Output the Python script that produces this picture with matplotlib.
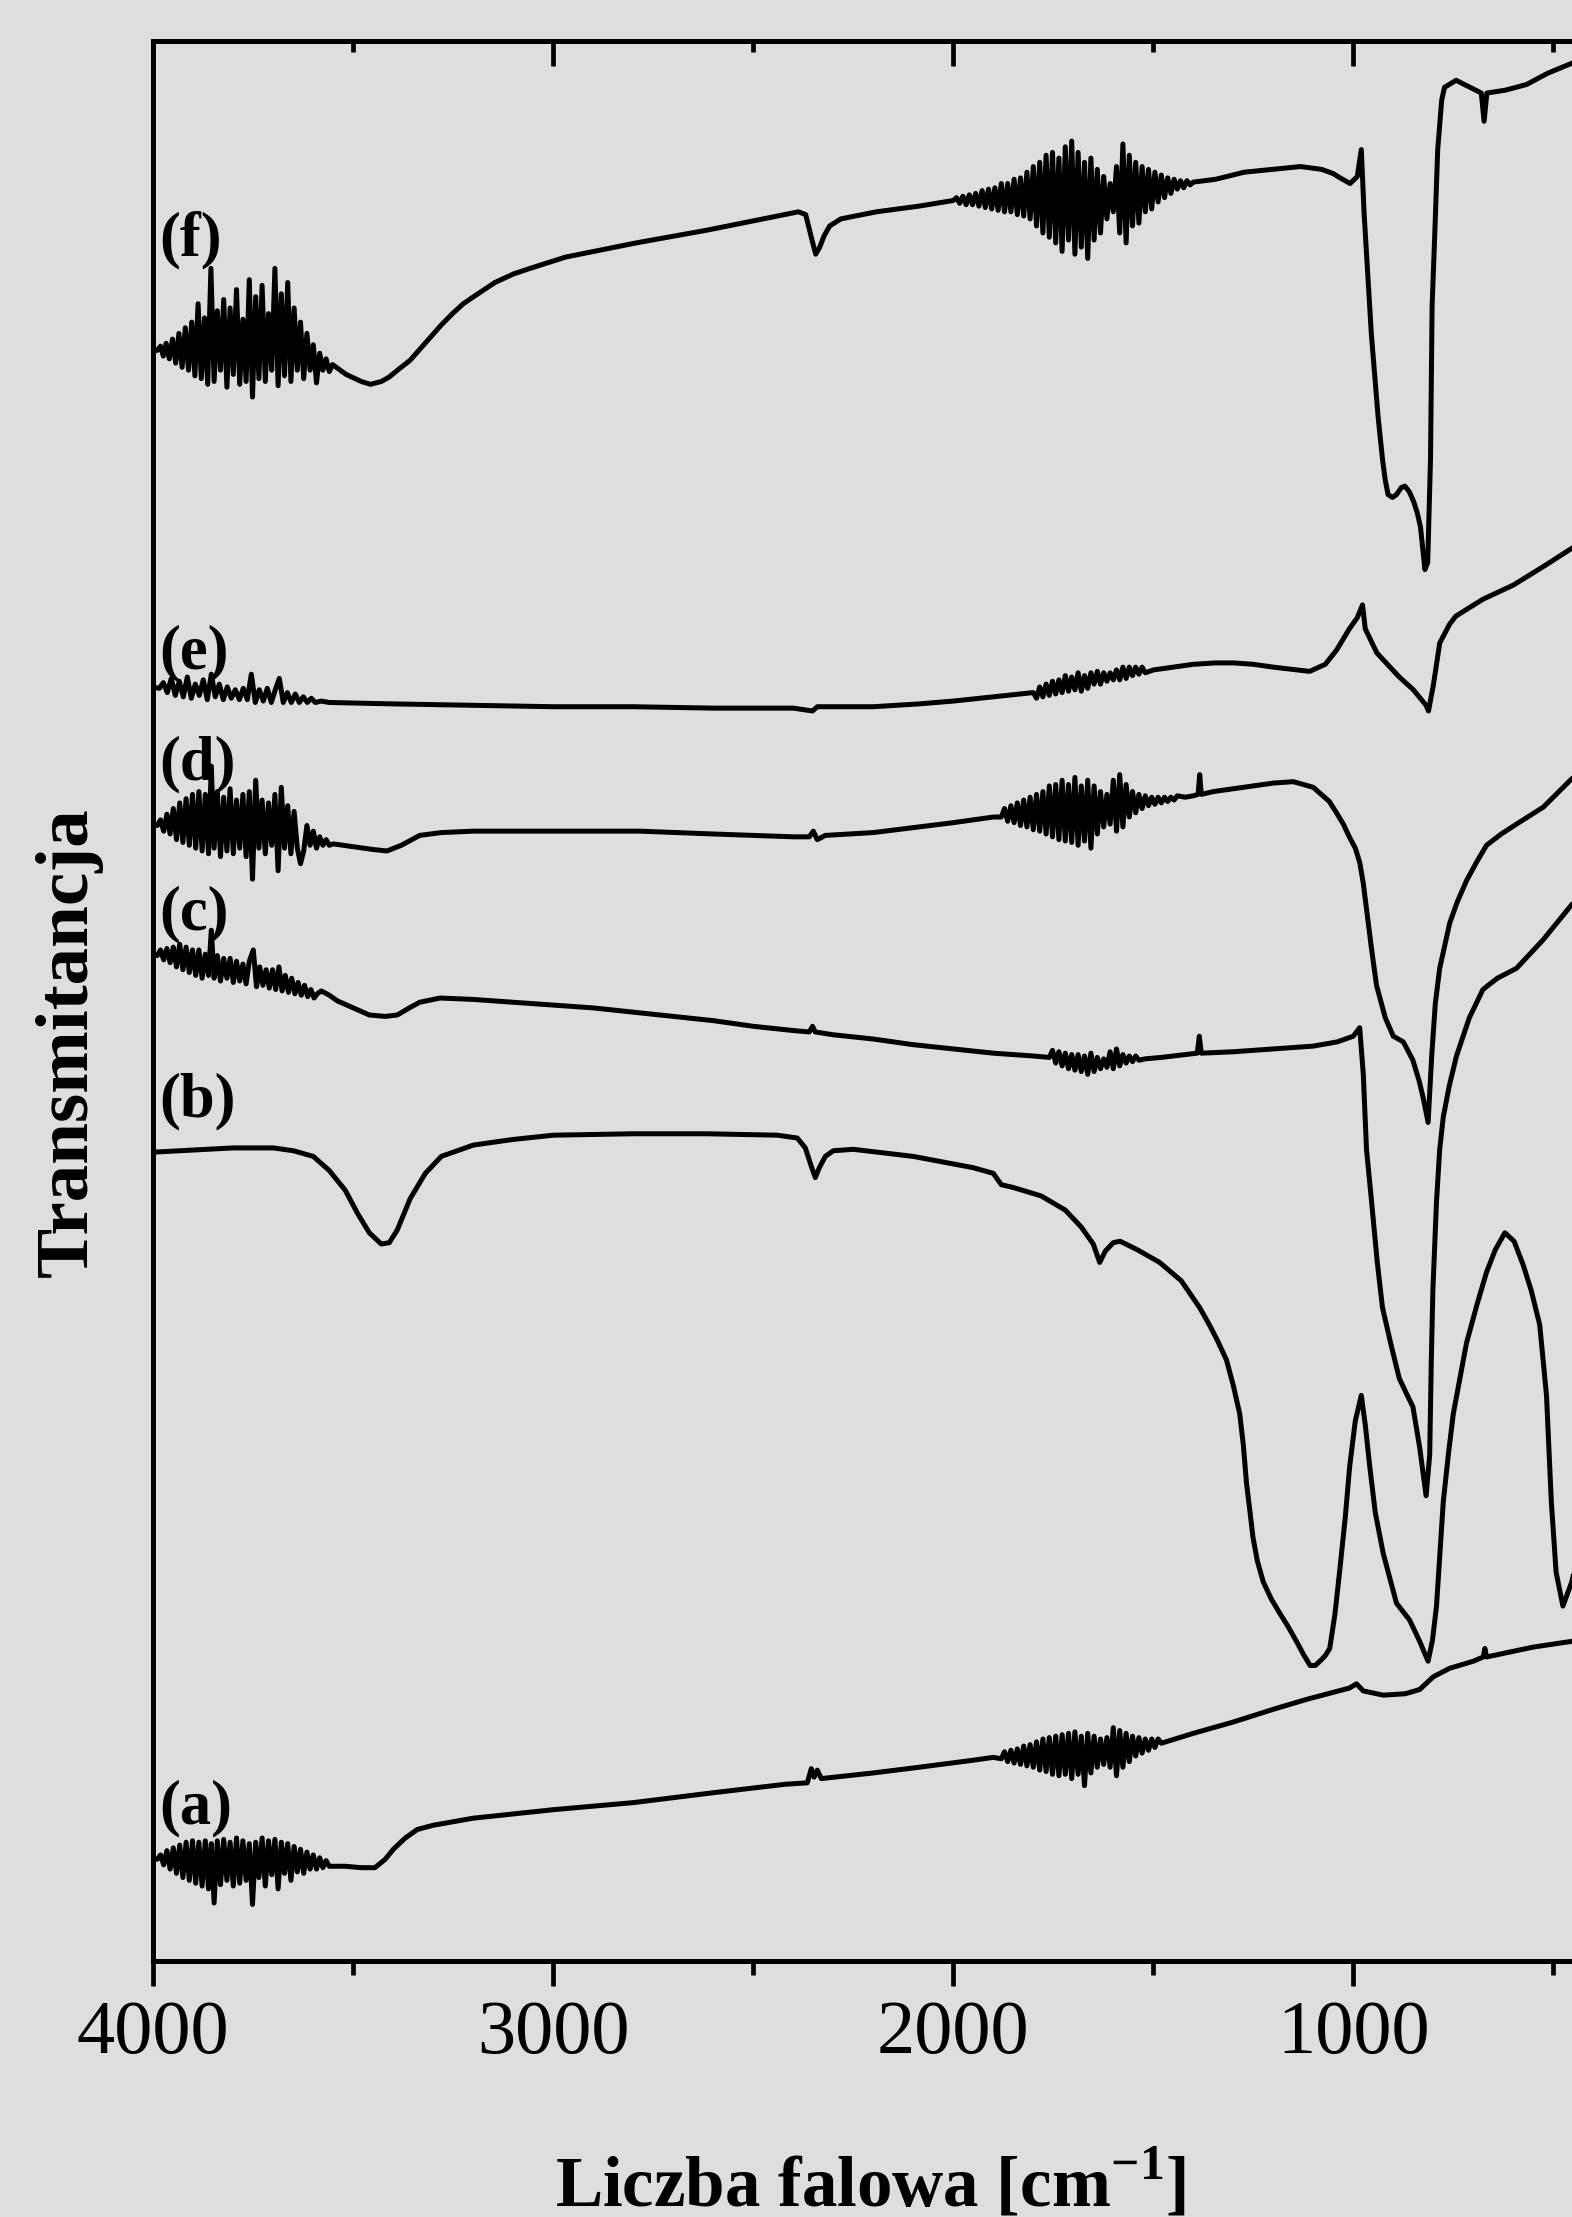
import matplotlib
matplotlib.use("Agg")
import matplotlib.pyplot as plt

plt.rcParams['font.family'] = ['Liberation Serif', 'DejaVu Serif']
plt.rcParams['mathtext.fontset'] = 'custom'
plt.rcParams['mathtext.rm'] = 'Liberation Serif'
plt.rcParams['mathtext.bf'] = 'Liberation Serif:bold'

BG = '#dedede'

# (wavenumber cm-1, transmittance in arbitrary units, curves offset)
spec_f = [
    (4000, 1152), (3990, 1152), (3982, 1155), (3975, 1148), (3968, 1157), (3960, 1146), (3952, 1160),
    (3944, 1143), (3936, 1164), (3928, 1140), (3920, 1168), (3912, 1138), (3904, 1172), (3896, 1134),
    (3888, 1185), (3880, 1132), (3872, 1175), (3864, 1128), (3856, 1210), (3848, 1130), (3840, 1180),
    (3832, 1138), (3824, 1188), (3816, 1126), (3808, 1182), (3800, 1135), (3792, 1195), (3784, 1128),
    (3776, 1174), (3768, 1130), (3760, 1202), (3752, 1119), (3744, 1190), (3736, 1132), (3728, 1198),
    (3720, 1130), (3712, 1178), (3704, 1138), (3696, 1210), (3688, 1127), (3680, 1192), (3672, 1134),
    (3664, 1200), (3656, 1130), (3648, 1182), (3640, 1138), (3632, 1172), (3624, 1132), (3616, 1164),
    (3608, 1138), (3600, 1156), (3592, 1129), (3584, 1150), (3576, 1138), (3568, 1146), (3560, 1137),
    (3552, 1142), (3518, 1135), (3480, 1130), (3457, 1128), (3430, 1130), (3411, 1133), (3385, 1139),
    (3358, 1145), (3330, 1154), (3305, 1162), (3280, 1170), (3252, 1178), (3225, 1185), (3199, 1190),
    (3146, 1200), (3100, 1206), (3058, 1210), (2969, 1218), (2793, 1228), (2616, 1237), (2475, 1245),
    (2387, 1250), (2369, 1248), (2355, 1232),
    (2344, 1220), (2334, 1225), (2323, 1233), (2309, 1240), (2281, 1245), (2192, 1250), (2086, 1254),
    (2000, 1258), (1992, 1260), (1984, 1256), (1976, 1261), (1968, 1255), (1960, 1262), (1952, 1255),
    (1944, 1263), (1936, 1254), (1928, 1265), (1920, 1253), (1912, 1266), (1904, 1252), (1896, 1267),
    (1888, 1251), (1880, 1270), (1872, 1250), (1864, 1270), (1856, 1250), (1848, 1273), (1840, 1248),
    (1832, 1274), (1824, 1247), (1816, 1278), (1808, 1245), (1800, 1282), (1792, 1240), (1784, 1285),
    (1776, 1235), (1768, 1290), (1760, 1232), (1752, 1292), (1744, 1228), (1736, 1288), (1728, 1222),
    (1720, 1296), (1712, 1230), (1704, 1300), (1696, 1220), (1688, 1292), (1680, 1225), (1672, 1285),
    (1664, 1217), (1656, 1288), (1648, 1230), (1640, 1280), (1632, 1235), (1624, 1275), (1616, 1245),
    (1608, 1270), (1600, 1250), (1592, 1282), (1584, 1235), (1576, 1298), (1568, 1228), (1560, 1290),
    (1552, 1240), (1544, 1285), (1536, 1242), (1528, 1282), (1520, 1250), (1512, 1280), (1504, 1252),
    (1496, 1278), (1488, 1257), (1480, 1276), (1472, 1260), (1464, 1274), (1456, 1263), (1448, 1273),
    (1440, 1266), (1432, 1272), (1424, 1267), (1416, 1272), (1408, 1269), (1400, 1271), (1344, 1273),
    (1273, 1278), (1203, 1280), (1132, 1282), (1079, 1280), (1050, 1277), (1033, 1274), (1008, 1270),
    (990, 1275), (980, 1294), (973, 1249), (962, 1197), (955, 1164), (945, 1129), (938, 1105),
    (927, 1075), (920, 1060), (913, 1050), (902, 1048), (892, 1050), (880, 1055), (871, 1056),
    (860, 1052), (849, 1045), (840, 1037), (832, 1027), (821, 997), (814, 1002),
    (807, 1075), (803, 1183), (796, 1237), (789, 1294), (779, 1329), (772, 1338), (743, 1343),
    (708, 1338), (680, 1334), (673, 1314), (666, 1334), (620, 1336), (567, 1340), (514, 1348),
    (454, 1355), (420, 1360),
]

spec_e = [
    (4000, 914), (3985, 913), (3975, 917), (3965, 910), (3955, 920), (3945, 908), (3935, 918),
    (3925, 907), (3915, 921), (3905, 906), (3895, 916), (3885, 908), (3875, 919), (3865, 905),
    (3855, 923), (3845, 907), (3835, 916), (3825, 905), (3815, 914), (3805, 906), (3795, 912),
    (3785, 905), (3775, 913), (3765, 905), (3755, 923), (3745, 903), (3735, 912), (3725, 904),
    (3715, 913), (3705, 903), (3695, 912), (3685, 920), (3675, 903), (3665, 910), (3655, 903),
    (3645, 909), (3635, 903), (3625, 907), (3615, 903), (3605, 906), (3595, 903), (3580, 904),
    (3560, 903), (3400, 902), (3200, 901), (3000, 900), (2800, 900), (2600, 899), (2400, 899),
    (2352, 897), (2340, 900), (2200, 900), (2086, 902), (2000, 904), (1900, 907), (1800, 910),
    (1792, 906), (1784, 914), (1776, 907), (1768, 916), (1760, 908), (1752, 918), (1744, 909),
    (1736, 919), (1728, 910), (1720, 922), (1712, 911), (1704, 921), (1696, 912), (1688, 924),
    (1680, 911), (1672, 922), (1664, 913), (1656, 924), (1648, 916), (1640, 925), (1632, 916),
    (1624, 924), (1616, 918), (1608, 924), (1600, 919), (1592, 926), (1584, 919), (1576, 928),
    (1568, 920), (1560, 928), (1552, 922), (1544, 928), (1536, 923), (1528, 928), (1520, 924),
    (1500, 926), (1450, 928), (1400, 930), (1344, 931), (1300, 931), (1250, 930), (1200, 928),
    (1140, 926), (1109, 925), (1070, 930), (1042, 940), (1010, 955), (990, 963), (977, 972),
    (970, 955), (941, 938), (885, 921), (850, 912), (818, 901), (812, 897), (800, 915),
    (784, 945), (760, 958), (744, 964), (676, 976), (600, 986), (520, 1000), (454, 1012), (420, 1018),
]

spec_d = [
    (4000, 817), (3990, 816), (3982, 820), (3974, 812), (3966, 824), (3958, 810), (3950, 828),
    (3942, 806), (3934, 832), (3926, 804), (3918, 835), (3910, 802), (3902, 838), (3894, 800),
    (3886, 840), (3878, 798), (3870, 838), (3862, 796), (3855, 858), (3848, 800), (3840, 840),
    (3832, 794), (3824, 836), (3816, 798), (3808, 842), (3800, 796), (3792, 834), (3784, 800),
    (3776, 838), (3768, 794), (3760, 840), (3752, 778), (3744, 848), (3736, 800), (3728, 834),
    (3720, 796), (3712, 832), (3704, 802), (3696, 838), (3688, 784), (3680, 843), (3672, 800),
    (3664, 830), (3656, 796), (3648, 826), (3640, 800), (3632, 789), (3624, 798), (3616, 816),
    (3608, 802), (3600, 812), (3592, 800), (3584, 808), (3576, 802), (3568, 806), (3560, 802),
    (3550, 803), (3500, 801), (3450, 799), (3416, 798), (3380, 802), (3334, 809), (3280, 811),
    (3201, 812), (3000, 812), (2783, 812), (2600, 810), (2400, 808), (2360, 808), (2350, 812),
    (2340, 806), (2320, 809), (2200, 811), (2086, 815), (2000, 818), (1900, 822), (1880, 822),
    (1872, 828), (1864, 819), (1856, 830), (1848, 818), (1840, 832), (1832, 816), (1824, 834),
    (1816, 815), (1808, 836), (1800, 813), (1792, 838), (1784, 812), (1776, 840), (1768, 810),
    (1760, 844), (1752, 808), (1744, 845), (1736, 806), (1728, 848), (1720, 805), (1712, 845),
    (1704, 804), (1696, 850), (1688, 802), (1680, 844), (1672, 805), (1664, 848), (1656, 800),
    (1648, 844), (1640, 810), (1632, 840), (1624, 815), (1616, 838), (1608, 817), (1600, 848),
    (1592, 812), (1584, 852), (1576, 815), (1568, 845), (1560, 822), (1552, 840), (1544, 825),
    (1536, 838), (1528, 828), (1520, 837), (1512, 830), (1504, 836), (1496, 831), (1488, 836),
    (1480, 832), (1472, 836), (1464, 833), (1456, 836), (1448, 834), (1440, 837), (1420, 836),
    (1400, 837), (1388, 838), (1384, 852), (1380, 838), (1350, 840), (1300, 842), (1250, 844),
    (1200, 846), (1150, 847), (1125, 845), (1100, 843), (1080, 838), (1060, 833), (1042, 825),
    (1025, 817), (1010, 808), (995, 800), (984, 790), (975, 775),
    (967, 757), (955, 730), (942, 703), (920, 680), (900, 667), (875, 663), (851, 650), (835, 635),
    (825, 623), (813, 606), (804, 653), (795, 690), (784, 715), (770, 733), (759, 747), (740, 762),
    (717, 777), (690, 791), (667, 802), (630, 810), (592, 817), (525, 829), (454, 849), (420, 855),
]

spec_c = [
    (4000, 725), (3990, 724), (3982, 728), (3974, 721), (3966, 729), (3958, 719), (3950, 730),
    (3942, 716), (3934, 732), (3926, 714), (3918, 730), (3910, 712), (3902, 728), (3894, 710),
    (3886, 728), (3878, 708), (3870, 725), (3862, 710), (3855, 742), (3848, 708), (3840, 724),
    (3832, 706), (3824, 722), (3816, 708), (3808, 722), (3800, 705), (3792, 720), (3784, 706),
    (3776, 718), (3768, 704), (3760, 720), (3750, 728), (3742, 702), (3734, 716), (3726, 703),
    (3718, 714), (3710, 701), (3702, 714), (3694, 700), (3686, 716), (3678, 699), (3670, 710),
    (3662, 698), (3654, 708), (3646, 697), (3638, 705), (3630, 696), (3622, 703), (3614, 695),
    (3606, 700), (3598, 694), (3590, 697), (3580, 699), (3560, 696), (3540, 692), (3500, 687),
    (3460, 682), (3420, 681), (3390, 682), (3360, 687), (3334, 691), (3283, 694), (3200, 693),
    (3100, 691), (3000, 689), (2900, 687), (2800, 684), (2700, 681), (2600, 678), (2500, 674),
    (2400, 671), (2360, 670), (2352, 674), (2345, 670), (2300, 668), (2200, 665), (2100, 661),
    (2000, 658), (1900, 655), (1800, 653), (1760, 652), (1752, 657), (1744, 648), (1736, 656),
    (1728, 646), (1720, 655), (1712, 644), (1704, 654), (1696, 643), (1688, 654), (1680, 642),
    (1672, 653), (1664, 640), (1656, 655), (1648, 642), (1640, 652), (1632, 644), (1624, 651),
    (1616, 645), (1608, 656), (1600, 644), (1592, 658), (1584, 646), (1576, 654), (1568, 648),
    (1560, 653), (1552, 649), (1544, 653), (1536, 650), (1520, 651), (1480, 652), (1420, 654),
    (1390, 655), (1385, 667), (1380, 655), (1300, 656), (1200, 658), (1100, 660), (1040, 663),
    (1000, 667), (984, 673), (975, 640), (967, 587), (955, 552), (940, 507), (927, 475),
    (905, 448), (885, 425), (865, 413), (851, 405), (834, 376), (818, 342), (809, 371), (805, 438),
    (801, 488), (792, 550), (784, 587), (775, 610), (760, 632), (742, 653), (710, 680), (676, 700),
    (640, 708), (592, 715), (526, 735), (454, 760), (420, 768),
]

spec_b = [
    (4000, 585), (3800, 588), (3700, 588), (3650, 586), (3600, 582), (3560, 572), (3520, 558),
    (3490, 542), (3460, 528), (3430, 520), (3410, 521), (3390, 530), (3358, 552), (3320, 570),
    (3280, 582), (3200, 590), (3100, 594), (3000, 597), (2800, 598), (2616, 598), (2440, 597),
    (2390, 595), (2370, 588), (2355, 575), (2345, 567), (2335, 574), (2320, 582), (2300, 586),
    (2250, 587), (2100, 582), (1950, 574), (1900, 570), (1880, 562), (1850, 560), (1780, 554),
    (1720, 544), (1680, 532), (1650, 520), (1634, 507), (1620, 515), (1600, 521), (1583, 522),
    (1540, 516), (1484, 507), (1430, 494), (1384, 475), (1360, 463), (1340, 452), (1317, 438),
    (1300, 420), (1284, 400), (1275, 378), (1267, 351), (1258, 330), (1251, 313), (1240, 296),
    (1225, 281), (1205, 269), (1184, 259), (1162, 249), (1142, 239), (1125, 230), (1108, 222),
    (1095, 222), (1080, 226), (1070, 229), (1059, 234), (1046, 258), (1034, 289), (1020, 327),
    (1009, 363), (995, 395), (980, 413), (970, 392), (959, 363), (945, 330), (925, 301),
    (892, 266), (859, 254), (834, 239), (813, 225), (802, 240), (792, 264), (775, 338),
    (762, 372), (750, 400), (717, 450), (690, 478), (667, 500), (645, 516), (621, 528), (598, 522),
    (575, 505), (555, 487), (534, 463), (517, 413), (505, 338), (493, 288), (476, 264), (454, 281),
    (430, 310),
]

spec_a = [
    (4000, 85), (3990, 85), (3982, 88), (3974, 81), (3966, 91), (3958, 78), (3950, 93),
    (3942, 75), (3934, 95), (3926, 72), (3918, 97), (3910, 70), (3902, 98), (3894, 68),
    (3886, 97), (3878, 66), (3870, 98), (3862, 64), (3855, 96), (3848, 54), (3840, 98),
    (3832, 67), (3824, 99), (3816, 70), (3808, 97), (3800, 66), (3792, 100), (3784, 68),
    (3776, 98), (3768, 70), (3760, 96), (3752, 53), (3744, 97), (3736, 72), (3728, 100),
    (3720, 66), (3712, 98), (3704, 74), (3696, 99), (3688, 64), (3680, 97), (3672, 75),
    (3664, 96), (3656, 70), (3648, 94), (3640, 76), (3632, 92), (3624, 75), (3616, 90),
    (3608, 78), (3600, 88), (3592, 78), (3584, 86), (3576, 79), (3568, 84), (3560, 80),
    (3520, 80), (3480, 79), (3446, 79), (3420, 85), (3400, 92), (3370, 100), (3340, 106),
    (3300, 109), (3200, 114), (3000, 120), (2800, 125), (2600, 132), (2420, 138), (2365, 139),
    (2355, 149), (2348, 143), (2340, 148), (2330, 142), (2200, 146), (2086, 150), (1950, 155),
    (1900, 157), (1880, 156), (1872, 161), (1864, 154), (1856, 162), (1848, 153), (1840, 163),
    (1832, 152), (1824, 165), (1816, 151), (1808, 166), (1800, 150), (1792, 168), (1784, 148),
    (1776, 170), (1768, 147), (1760, 171), (1752, 145), (1744, 172), (1736, 144), (1728, 173),
    (1720, 145), (1712, 174), (1704, 142), (1696, 175), (1688, 145), (1680, 172), (1672, 137),
    (1664, 174), (1656, 146), (1648, 172), (1640, 150), (1632, 170), (1624, 152), (1616, 171),
    (1608, 150), (1600, 178), (1592, 144), (1584, 176), (1576, 150), (1568, 174), (1560, 154),
    (1552, 172), (1544, 158), (1536, 171), (1528, 160), (1520, 170), (1512, 162), (1504, 170),
    (1496, 164), (1488, 170), (1480, 167), (1400, 174), (1300, 182), (1200, 191), (1117, 198),
    (1050, 203), (1010, 206), (992, 209), (975, 204), (925, 201), (870, 202), (834, 205),
    (800, 214), (759, 220), (700, 225), (675, 228), (671, 234), (667, 228), (600, 232),
    (550, 235), (454, 239), (420, 241),
]

curves = [spec_a, spec_b, spec_c, spec_d, spec_e, spec_f]
labels = ['(a)', '(b)', '(c)', '(d)', '(e)', '(f)']
label_y = [121, 621, 753, 859, 938, 1230]

fig = plt.figure(figsize=(15.72, 22.17), dpi=100, facecolor=BG)
ax = fig.add_axes([153.3 / 1572, 256 / 2217, 1440 / 1572, 1920.3 / 2217])
ax.set_facecolor(BG)

for pts in curves:
    wn, tr = zip(*pts)
    ax.plot(wn, tr, color='black', lw=3.6)

for lab, yy in zip(labels, label_y):
    ax.text(3985, yy, lab, fontsize=45, fontweight='bold', ha='left', va='center')

ax.set_xlim(4000, 400)
ax.set_ylim(13, 1371)
ax.set_xticks([4000, 3000, 2000, 1000])
ax.set_xticks([3500, 2500, 1500, 500], minor=True)
ax.set_yticks([])
ax.tick_params(axis='x', which='major', direction='out', length=18, width=3.4, labelsize=55, pad=10)
ax.tick_params(axis='x', which='minor', direction='out', length=10, width=3.4)

top = ax.secondary_xaxis('top')
top.set_xticks([4000, 3000, 2000, 1000])
top.set_xticks([3500, 2500, 1500, 500], minor=True)
top.tick_params(axis='x', which='major', direction='in', length=18, width=3.4, labeltop=False)
top.tick_params(axis='x', which='minor', direction='in', length=8, width=3.4)
top.spines['top'].set_linewidth(3.6)

for s in ax.spines.values():
    s.set_linewidth(3.6)

fig.text(0.5535, 0.005, r'Liczba falowa [cm$^{\mathbf{-1}}$]', fontsize=51, fontweight='bold',
         ha='center', va='baseline')
fig.text(0.044, 0.53, 'Transmitancja', fontsize=54, fontweight='bold', rotation=90,
         ha='center', va='center')

fig.savefig('out.png', dpi=100, facecolor=BG)
